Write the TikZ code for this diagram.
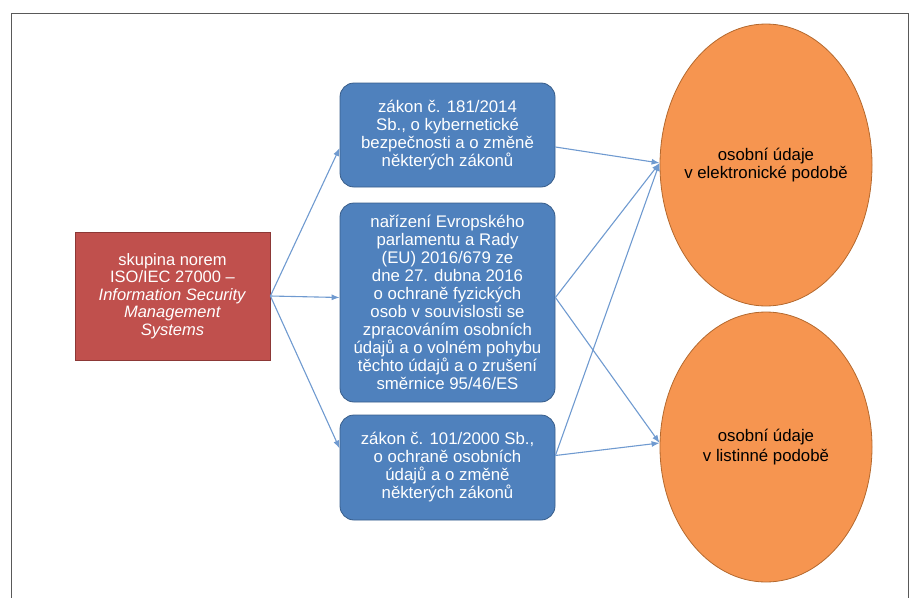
\documentclass[tikz,border=0pt]{standalone}
\usepackage{fontspec}
\setmainfont{Liberation Sans}
\usetikzlibrary{arrows.meta,shapes.geometric}

\definecolor{normred}{HTML}{C0504D}
\definecolor{normredline}{HTML}{8C3836}
\definecolor{lawblue}{HTML}{4F81BD}
\definecolor{lawblueline}{HTML}{385D8A}
\definecolor{dataorange}{HTML}{F69550}
\definecolor{dataorangeline}{HTML}{B4692E}
\definecolor{linkblue}{HTML}{6F9AD0}

\tikzset{
  normbox/.style = {draw = normredline, fill = normred, thick, text = white,
                    minimum width = 195pt, minimum height = 128pt,
                    align = center, inner sep = 0pt,
                    font = \fontsize{16.5}{17.4}\selectfont},
  lawbox/.style = {draw = lawblueline, fill = lawblue, thick, text = white,
                   rounded corners = 14pt, minimum width = 215pt,
                   align = center, inner sep = 0pt},
  databox/.style = {ellipse, draw = dataorangeline, fill = dataorange, thick,
                    minimum width = 212pt, align = center,
                    inner xsep = -30pt, inner ysep = 0pt},
  link/.style = {draw = linkblue, line width = 1.1pt,
                 -{Latex[length = 8pt, width = 6pt]}}
}

\begin{document}
\begin{tikzpicture}[x = 1pt, y = -1pt,
    every node/.style = {font = \fontsize{16.8}{18}\selectfont}]
        \useasboundingbox (0,0) rectangle (910,597);
        \draw[color = black!65, line width = .9pt] (11,600) -- (11,13) -- (908,13) -- (908,600);

        % norma vlevo
        \node[normbox] (iso) at (172.5,296) {skupina norem\\ISO/IEC 27000 --\\
              \textit{Information Security}\\\textit{Management}\\\textit{Systems}};

        % zakony uprostred
        \node[lawbox, minimum height = 104pt] (kyber) at (447.5,135)
              {zákon č. 181/2014\\Sb., o kybernetické\\bezpečnosti a o změně\\některých zákonů};
        \node[lawbox, minimum height = 199pt] (gdpr) at (447.5,302.5)
              {nařízení Evropského\\parlamentu a Rady\\(EU) 2016/679 ze\\dne 27. dubna 2016\\
               o ochraně fyzických\\osob v souvislosti se\\zpracováním osobních\\
               údajů a o volném pohybu\\těchto údajů a o zrušení\\směrnice 95/46/ES};
        \node[lawbox, minimum height = 105pt] (ochrana) at (447.5,467.5)
              {zákon č. 101/2000 Sb.,\\o ochraně osobních\\údajů a o změně\\některých zákonů};

        % osobni udaje vpravo
        \node[databox, minimum height = 282pt] (elektr) at (766,165)
              {\raisebox{-2pt}{\shortstack{osobní údaje\\v elektronické podobě}}};
        \node[databox, minimum height = 270pt] (listin) at (766,447)
              {osobní údaje\\[2pt]v listinné podobě};

        \draw[link] (iso.east) -- ([yshift = -13pt]kyber.west);
        \draw[link] (iso.east) -- ([yshift = 5pt]gdpr.west);
        \draw[link] (iso.east) -- ([yshift = 19pt]ochrana.west);

        \draw[link] ([yshift = -12pt]kyber.east) -- ([yshift = 2pt]elektr.west);
        \draw[link] ([yshift = 5pt]gdpr.east) -- ([yshift = 2pt]elektr.west);
        \draw[link] ([yshift = 5pt]gdpr.east) -- ([yshift = 4pt]listin.west);
        \draw[link] ([yshift = 12pt]ochrana.east) -- ([yshift = 2pt]elektr.west);
        \draw[link] ([yshift = 12pt]ochrana.east) -- ([yshift = 4pt]listin.west);
      \end{tikzpicture}
\end{document}
